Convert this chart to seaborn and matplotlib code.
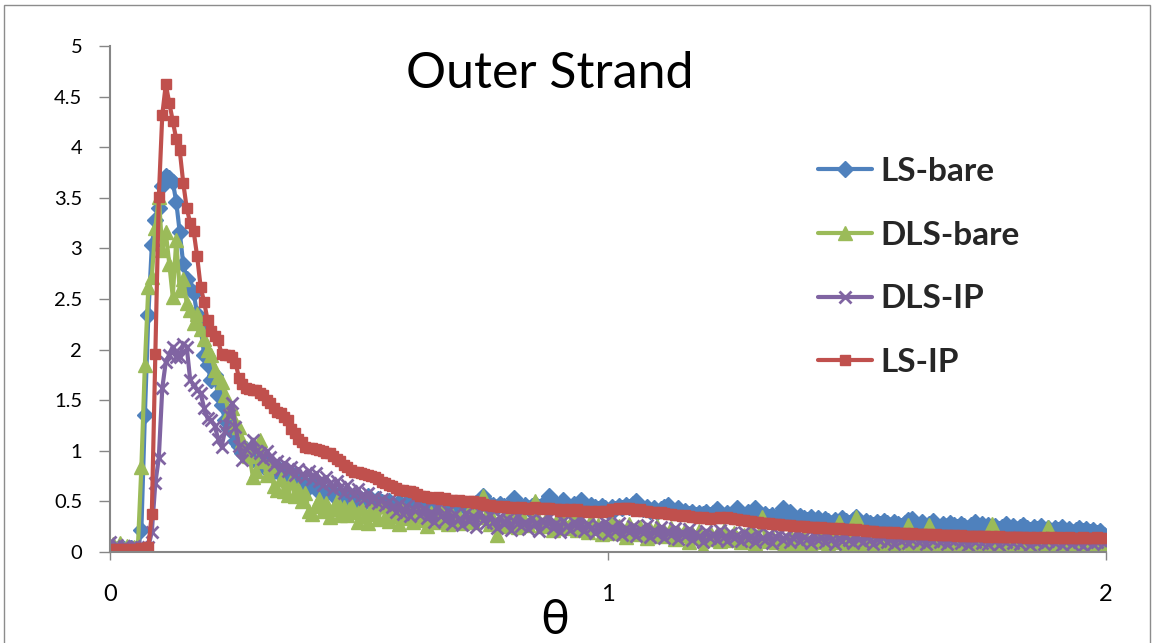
import numpy as np
import pandas as pd
import matplotlib
matplotlib.use("Agg")
import matplotlib.pyplot as plt
from matplotlib import font_manager
from matplotlib.patches import Rectangle
import seaborn as sns

# sampling step of theta (radians)
STEP = 0.007

ls_bare = [
    0.03, 0.05, 0.02, 0.04, 0.03, 0.02, 0.04, 0.03, 0.02, 0.22,
    1.35, 2.34, 3.03, 3.28, 3.40, 3.62, 3.72, 3.70, 3.66, 3.46,
    3.16, 2.85, 2.70, 2.60, 2.56, 2.35, 2.22, 1.95, 1.85, 1.70,
    1.75, 1.55, 1.45, 1.30, 1.22, 1.25, 1.10, 1.05, 0.98, 1.02,
    0.95, 0.92, 0.97, 0.88, 0.85, 0.90, 0.82, 0.80, 0.84, 0.76,
    0.78, 0.74, 0.72, 0.76, 0.68, 0.70, 0.66, 0.64, 0.69, 0.62,
    0.63, 0.60, 0.58, 0.62, 0.56, 0.54, 0.58, 0.52, 0.55, 0.50,
    0.53, 0.49, 0.52, 0.48, 0.55, 0.50, 0.47, 0.52, 0.49, 0.46,
    0.50, 0.47, 0.45, 0.49, 0.44, 0.48, 0.45, 0.43, 0.47, 0.44,
    0.46, 0.43, 0.45, 0.42, 0.47, 0.44, 0.43, 0.46, 0.42, 0.45,
    0.44, 0.47, 0.43, 0.46, 0.42, 0.48, 0.48, 0.55, 0.50, 0.43,
    0.46, 0.44, 0.47, 0.45, 0.43, 0.48, 0.53, 0.47, 0.44, 0.46,
    0.43, 0.45, 0.47, 0.44, 0.46, 0.49, 0.55, 0.50, 0.45, 0.47,
    0.51, 0.46, 0.44, 0.47, 0.45, 0.51, 0.47, 0.43, 0.46, 0.44,
    0.42, 0.45, 0.43, 0.41, 0.44, 0.42, 0.45, 0.43, 0.46, 0.44,
    0.47, 0.50, 0.45, 0.42, 0.44, 0.41, 0.43, 0.40, 0.42, 0.44,
    0.46, 0.42, 0.40, 0.43, 0.39, 0.41, 0.38, 0.40, 0.37, 0.39,
    0.38, 0.40, 0.37, 0.39, 0.42, 0.38, 0.36, 0.39, 0.37, 0.40,
    0.43, 0.39, 0.37, 0.40, 0.38, 0.43, 0.39, 0.36, 0.38, 0.35,
    0.37, 0.34, 0.38, 0.43, 0.36, 0.40, 0.35, 0.33, 0.36, 0.34,
    0.32, 0.35, 0.31, 0.34, 0.30, 0.33, 0.31, 0.29, 0.32, 0.30,
    0.34, 0.31, 0.29, 0.32, 0.35, 0.30, 0.28, 0.31, 0.29, 0.27,
    0.30, 0.28, 0.31, 0.29, 0.27, 0.30, 0.28, 0.26, 0.29, 0.32,
    0.33, 0.29, 0.27, 0.30, 0.26, 0.28, 0.31, 0.27, 0.25, 0.28,
    0.26, 0.29, 0.27, 0.25, 0.28, 0.26, 0.24, 0.27, 0.30, 0.26,
    0.28, 0.25, 0.27, 0.24, 0.26, 0.23, 0.25, 0.28, 0.24, 0.26,
    0.23, 0.25, 0.27, 0.24, 0.22, 0.25, 0.23, 0.26, 0.22, 0.24,
    0.21, 0.24, 0.22, 0.25, 0.21, 0.23, 0.20, 0.22, 0.24, 0.21,
    0.23, 0.20, 0.22, 0.19, 0.21, 0.17,
]

dls_bare = [
    0.02, 0.08, 0.04, 0.09, 0.03, 0.06, 0.02, 0.05, 0.05, 0.84,
    1.85, 2.62, 2.72, 3.20, 3.51, 2.98, 3.16, 2.85, 2.52, 3.08,
    2.59, 2.70, 2.46, 2.39, 2.26, 2.35, 2.20, 2.10, 2.00, 1.95,
    1.80, 1.73, 1.68, 1.55, 1.38, 1.42, 1.28, 1.24, 1.10, 1.02,
    0.95, 0.74, 0.80, 1.11, 0.90, 0.76, 0.85, 0.65, 0.61, 0.72,
    0.60, 0.56, 0.70, 0.55, 0.62, 0.50, 0.58, 0.41, 0.38, 0.45,
    0.52, 0.41, 0.48, 0.35, 0.42, 0.50, 0.37, 0.44, 0.37, 0.46,
    0.40, 0.30, 0.44, 0.36, 0.29, 0.42, 0.38, 0.33, 0.45, 0.35,
    0.31, 0.40, 0.36, 0.28, 0.42, 0.34, 0.38, 0.30, 0.44, 0.36,
    0.32, 0.26, 0.39, 0.35, 0.30, 0.41, 0.33, 0.28, 0.37, 0.31,
    0.36, 0.29, 0.34, 0.41, 0.30, 0.38, 0.47, 0.55, 0.35, 0.28,
    0.33, 0.17, 0.30, 0.26, 0.36, 0.29, 0.32, 0.25, 0.38, 0.30,
    0.27, 0.34, 0.50, 0.31, 0.26, 0.33, 0.28, 0.22, 0.30, 0.25,
    0.31, 0.24, 0.28, 0.35, 0.22, 0.29, 0.26, 0.20, 0.32, 0.24,
    0.27, 0.18, 0.25, 0.22, 0.30, 0.19, 0.26, 0.21, 0.15, 0.28,
    0.22, 0.18, 0.25, 0.20, 0.14, 0.23, 0.19, 0.26, 0.16, 0.21,
    0.18, 0.24, 0.13, 0.20, 0.17, 0.22, 0.10, 0.19, 0.15, 0.21,
    0.04, 0.16, 0.20, 0.13, 0.18, 0.11, 0.22, 0.15, 0.12, 0.19,
    0.14, 0.10, 0.17, 0.12, 0.20, 0.09, 0.15, 0.35, 0.13, 0.11,
    0.16, 0.10, 0.14, 0.05, 0.12, 0.17, 0.09, 0.13, 0.08, 0.15,
    0.11, 0.07, 0.14, 0.10, 0.18, 0.12, 0.08, 0.14, 0.10, 0.30,
    0.12, 0.08, 0.13, 0.10, 0.35, 0.06, 0.12, 0.09, 0.14, 0.07,
    0.11, 0.01, 0.09, 0.13, 0.08, 0.12, 0.06, 0.10, 0.14, 0.27,
    0.09, 0.12, 0.08, 0.11, 0.06, 0.27, 0.10, 0.07, 0.12, 0.09,
    0.02, 0.11, 0.08, 0.13, 0.07, 0.10, 0.12, 0.06, 0.09, 0.01,
    0.08, 0.12, 0.07, 0.28, 0.10, 0.06, 0.11, 0.08, 0.13, 0.07,
    0.10, 0.06, 0.12, 0.08, 0.11, 0.05, 0.09, 0.12, 0.07, 0.25,
    0.09, 0.06, 0.11, 0.08, 0.05, 0.10, 0.07, 0.12, 0.06, 0.09,
    0.05, 0.08, 0.06, 0.10, 0.04, 0.05,
]

dls_ip = [
    0.10, 0.04, 0.07, 0.03, 0.06, 0.05, 0.03, 0.06, 0.04, 0.05,
    0.04, 0.05, 0.20, 0.68, 0.93, 1.62, 1.88, 1.95, 2.03, 1.93,
    1.93, 2.06, 2.03, 1.70, 1.65, 1.60, 1.57, 1.42, 1.32, 1.30,
    1.25, 1.12, 1.04, 1.20, 1.35, 1.47, 1.24, 1.05, 0.91, 1.02,
    1.04, 1.11, 1.00, 0.98, 0.92, 1.00, 0.94, 0.86, 0.90, 0.82,
    0.88, 0.80, 0.84, 0.76, 0.82, 0.77, 0.74, 0.80, 0.72, 0.78,
    0.70, 0.66, 0.74, 0.68, 0.62, 0.70, 0.64, 0.58, 0.66, 0.60,
    0.56, 0.62, 0.55, 0.52, 0.58, 0.50, 0.54, 0.48, 0.52, 0.46,
    0.50, 0.44, 0.40, 0.47, 0.38, 0.45, 0.36, 0.42, 0.48, 0.37,
    0.43, 0.34, 0.40, 0.30, 0.44, 0.36, 0.32, 0.41, 0.28, 0.38,
    0.33, 0.27, 0.39, 0.31, 0.36, 0.25, 0.40, 0.32, 0.29, 0.37,
    0.30, 0.24, 0.35, 0.28, 0.33, 0.22, 0.31, 0.36, 0.26, 0.30,
    0.23, 0.34, 0.28, 0.21, 0.32, 0.27, 0.35, 0.24, 0.29, 0.20,
    0.31, 0.26, 0.22, 0.30, 0.25, 0.33, 0.21, 0.28, 0.24, 0.19,
    0.27, 0.23, 0.30, 0.18, 0.25, 0.21, 0.29, 0.17, 0.24, 0.20,
    0.26, 0.16, 0.23, 0.19, 0.27, 0.15, 0.22, 0.18, 0.25, 0.14,
    0.21, 0.17, 0.24, 0.13, 0.20, 0.16, 0.23, 0.12, 0.19, 0.16,
    0.10, 0.21, 0.14, 0.18, 0.12, 0.22, 0.15, 0.11, 0.19, 0.14,
    0.17, 0.11, 0.20, 0.13, 0.16, 0.10, 0.19, 0.14, 0.12, 0.18,
    0.09, 0.15, 0.18, 0.12, 0.16, 0.10, 0.14, 0.19, 0.11, 0.15,
    0.13, 0.09, 0.17, 0.12, 0.15, 0.10, 0.18, 0.13, 0.08, 0.14,
    0.11, 0.16, 0.12, 0.09, 0.15, 0.13, 0.10, 0.17, 0.12, 0.08,
    0.14, 0.11, 0.16, 0.10, 0.13, 0.08, 0.15, 0.11, 0.14, 0.09,
    0.12, 0.15, 0.10, 0.13, 0.08, 0.14, 0.11, 0.16, 0.10, 0.12,
    0.08, 0.13, 0.11, 0.15, 0.09, 0.12, 0.07, 0.14, 0.10, 0.13,
    0.09, 0.12, 0.08, 0.14, 0.11, 0.07, 0.13, 0.10, 0.15, 0.09,
    0.12, 0.08, 0.11, 0.14, 0.07, 0.12, 0.10, 0.13, 0.08, 0.11,
    0.14, 0.09, 0.12, 0.07, 0.11, 0.13, 0.08, 0.12, 0.10, 0.06,
    0.11, 0.13, 0.08, 0.10, 0.12, 0.09,
]

ls_ip = [
    0.03, 0.02, 0.03, 0.02, 0.03, 0.03, 0.02, 0.03, 0.03, 0.04,
    0.04, 0.05, 0.38, 1.96, 3.51, 4.32, 4.62, 4.44, 4.26, 4.08,
    3.97, 3.65, 3.40, 3.25, 3.17, 2.92, 2.62, 2.47, 2.29, 2.18,
    2.13, 2.09, 1.96, 1.95, 1.95, 1.93, 1.87, 1.72, 1.66, 1.62,
    1.61, 1.60, 1.60, 1.57, 1.55, 1.50, 1.47, 1.42, 1.38, 1.37,
    1.33, 1.30, 1.22, 1.18, 1.12, 1.09, 1.04, 1.03, 1.03, 1.02,
    1.01, 1.00, 0.98, 0.98, 0.95, 0.92, 0.90, 0.86, 0.84, 0.81,
    0.79, 0.79, 0.78, 0.77, 0.76, 0.75, 0.74, 0.72, 0.69, 0.68,
    0.66, 0.65, 0.63, 0.61, 0.61, 0.60, 0.60, 0.59, 0.57, 0.55,
    0.55, 0.54, 0.53, 0.53, 0.54, 0.52, 0.53, 0.51, 0.51, 0.50,
    0.51, 0.50, 0.49, 0.50, 0.50, 0.48, 0.49, 0.47, 0.46, 0.46,
    0.45, 0.45, 0.44, 0.45, 0.44, 0.43, 0.44, 0.43, 0.44, 0.43,
    0.42, 0.43, 0.44, 0.43, 0.42, 0.43, 0.43, 0.42, 0.42, 0.41,
    0.42, 0.41, 0.42, 0.41, 0.42, 0.41, 0.41, 0.40, 0.41, 0.40,
    0.41, 0.40, 0.41, 0.41, 0.42, 0.42, 0.43, 0.42, 0.43, 0.43,
    0.42, 0.41, 0.42, 0.41, 0.41, 0.40, 0.40, 0.39, 0.40, 0.39,
    0.38, 0.38, 0.37, 0.37, 0.36, 0.37, 0.36, 0.35, 0.35, 0.34,
    0.35, 0.34, 0.33, 0.34, 0.34, 0.35, 0.34, 0.35, 0.34, 0.33,
    0.33, 0.32, 0.32, 0.31, 0.31, 0.30, 0.30, 0.29, 0.29, 0.29,
    0.28, 0.28, 0.28, 0.27, 0.27, 0.27, 0.26, 0.26, 0.26, 0.26,
    0.25, 0.25, 0.25, 0.24, 0.25, 0.24, 0.24, 0.24, 0.23, 0.24,
    0.23, 0.23, 0.23, 0.22, 0.23, 0.22, 0.22, 0.21, 0.21, 0.21,
    0.20, 0.20, 0.20, 0.20, 0.19, 0.20, 0.19, 0.19, 0.19, 0.18,
    0.19, 0.18, 0.18, 0.18, 0.18, 0.18, 0.17, 0.18, 0.17, 0.17,
    0.17, 0.17, 0.17, 0.16, 0.17, 0.16, 0.16, 0.16, 0.16, 0.16,
    0.16, 0.16, 0.15, 0.16, 0.15, 0.16, 0.15, 0.15, 0.15, 0.15,
    0.15, 0.15, 0.15, 0.14, 0.15, 0.14, 0.15, 0.14, 0.15, 0.14,
    0.15, 0.14, 0.15, 0.14, 0.14, 0.15, 0.14, 0.14, 0.14, 0.15,
    0.14, 0.14, 0.14, 0.15, 0.14, 0.14,
]

series_names = ["LS-bare", "DLS-bare", "DLS-IP", "LS-IP"]
series_values = [ls_bare, dls_bare, dls_ip, ls_ip]

y_ticks = [0, 0.5, 1, 1.5, 2, 2.5, 3, 3.5, 4, 4.5, 5]
y_tick_labels = ["0", "0.5", "1", "1.5", "2", "2.5", "3", "3.5", "4", "4.5", "5"]
x_ticks = [0, 1, 2]
x_tick_labels = ["0", "1", "2"]

theta = np.round(np.arange(len(ls_ip)) * STEP, 3)
df = pd.concat(
    [pd.DataFrame({"theta": theta, "value": vals, "series": name})
     for name, vals in zip(series_names, series_values)],
    ignore_index=True,
)

sns.set_theme(style="white")
plt.rcParams["font.family"] = ["Lato", "DejaVu Sans"]


def has_font(name):
    try:
        font_manager.findfont(name, fallback_to_default=False)
        return True
    except Exception:
        return False


narrow_family = ["Liberation Sans Narrow", "DejaVu Sans"] if has_font("Liberation Sans Narrow") else ["Lato", "DejaVu Sans"]

W, H = 1158, 643
fig = plt.figure(figsize=(W / 100, H / 100), dpi=100)
fig.patch.set_facecolor("white")
ax = fig.add_axes([110 / W, 1 - 552 / H, 996 / W, 506 / H])

styles = {
    "LS-bare": dict(color="#4F81BD", marker="D", ms=8.0, mew=1.0),
    "DLS-bare": dict(color="#9BBB59", marker="^", ms=10.5, mew=1.0),
    "DLS-IP": dict(color="#8064A2", marker="x", ms=9.0, mew=2.0),
    "LS-IP": dict(color="#C0504D", marker="s", ms=7.5, mew=1.0),
}

for name in series_names:
    st = styles[name]
    sns.lineplot(
        data=df[df["series"] == name], x="theta", y="value", ax=ax,
        color=st["color"], marker=st["marker"], markersize=st["ms"],
        markeredgecolor=st["color"], markerfacecolor=st["color"],
        markeredgewidth=st["mew"], linewidth=3.0, label=name,
        estimator=None, sort=False,
    )

ax.set_xlim(0, 2)
ax.set_ylim(0, 5)
ax.set_xticks(x_ticks, x_tick_labels)
ax.set_yticks(y_ticks, y_tick_labels)
ax.set_xlabel("")
ax.set_ylabel("")
sns.despine(ax=ax)
for side in ("left", "bottom"):
    ax.spines[side].set_color("#868686")
    ax.spines[side].set_linewidth(1.5)

ax.tick_params(axis="y", which="major", left=True, direction="out", length=8,
               width=1.0, color="#868686", labelsize=14.5, pad=12,
               labelcolor="black")
ax.tick_params(axis="x", which="major", bottom=True, direction="out", length=6,
               width=1.0, color="#868686", labelsize=17, pad=17,
               labelcolor="black")
for lab in ax.get_xticklabels():
    lab.set_family(narrow_family)

ax.text(0.442, 0.945, "Outer Strand", transform=ax.transAxes,
        ha="center", va="center", fontsize=36, color="black")

fig.text(555 / W, 1 - 620 / H, "θ", ha="center", va="center",
         fontsize=35, color="black", family=["Lato", "DejaVu Sans"])

leg = ax.legend(
    loc="upper left", bbox_to_anchor=(818 / W, 1 - 157 / H),
    bbox_transform=fig.transFigure, frameon=False, borderpad=0,
    borderaxespad=0, handlelength=1.62, handletextpad=0.24,
    labelspacing=1.04, prop={"weight": "bold", "size": 24},
)

fig.add_artist(Rectangle((4 / W, -0.05), (1150 - 4) / W, 1.05 - 5 / H,
                         transform=fig.transFigure, fill=False,
                         edgecolor="#8c8c8c", linewidth=1.0))

fig.savefig("out.png", dpi=100, facecolor="white")
